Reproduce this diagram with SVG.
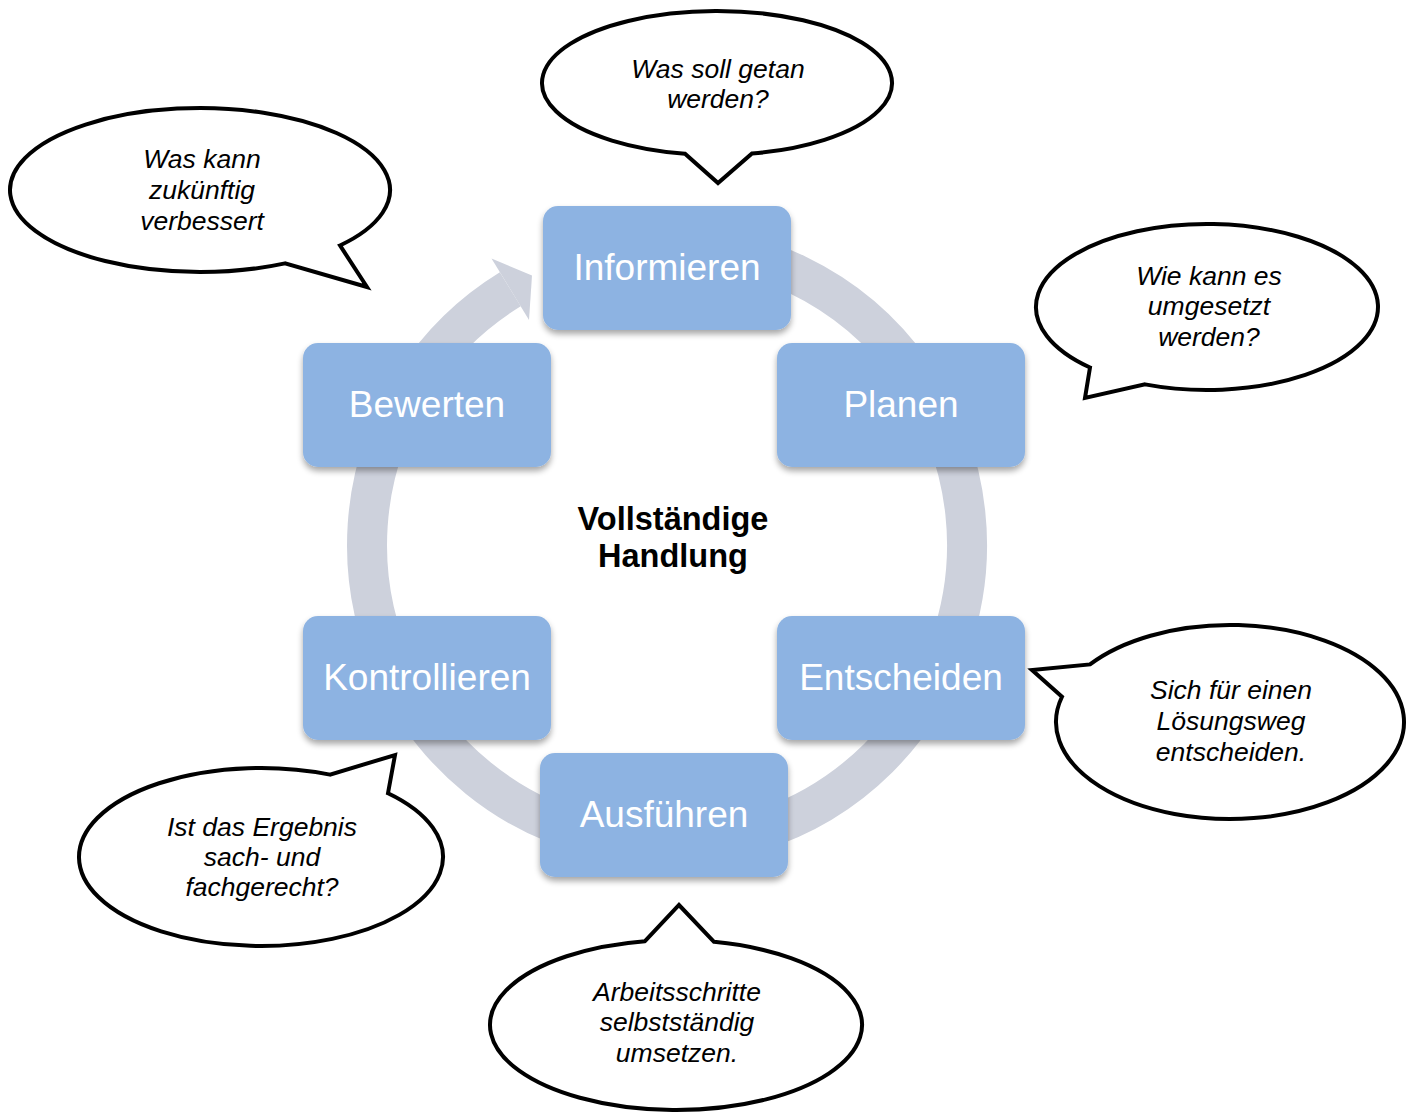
<svg xmlns="http://www.w3.org/2000/svg" width="1414" height="1113" viewBox="0 0 1414 1113">
<style>
.box{fill:#8db3e2;filter:url(#sh)}
.bt{font-family:"Liberation Sans",Arial,sans-serif;font-size:37px;fill:#fff;text-anchor:middle}
.bub{fill:#fff;stroke:#000;stroke-width:4;stroke-linejoin:miter}
.ct{font-family:"Liberation Sans",Arial,sans-serif;font-size:26.5px;font-style:italic;fill:#000;text-anchor:middle}
.ctr{font-family:"Liberation Sans",Arial,sans-serif;font-size:32.5px;font-weight:bold;fill:#000;text-anchor:middle}
</style>
<defs>
<filter id="sh" x="-10%" y="-10%" width="120%" height="130%">
<feGaussianBlur in="SourceAlpha" stdDeviation="3"/>
<feOffset dy="4" result="b"/>
<feComponentTransfer><feFuncA type="linear" slope="0.35"/></feComponentTransfer>
<feMerge><feMergeNode/><feMergeNode in="SourceGraphic"/></feMerge>
</filter>
</defs>
<rect width="1414" height="1113" fill="#fff"/>
<g id="connectors">
<path d="M667,245 A300,300 0 1 1 510.3,289.2" fill="none" stroke="#cdd1dc" stroke-width="40"/>
<polygon points="491.5,258.5 532,275.6 529,320" fill="#cdd1dc"/>
</g>
<g id="node-informieren"><rect class="box" x="543" y="206" width="248" height="124" rx="15"/><text class="bt" x="667" y="280">Informieren</text></g>
<g id="node-planen"><rect class="box" x="777" y="343" width="248" height="124" rx="15"/><text class="bt" x="901" y="417">Planen</text></g>
<g id="node-entscheiden"><rect class="box" x="777" y="616" width="248" height="124" rx="15"/><text class="bt" x="901" y="690">Entscheiden</text></g>
<g id="node-ausfuehren"><rect class="box" x="540" y="753" width="248" height="124" rx="15"/><text class="bt" x="664" y="827">Ausführen</text></g>
<g id="node-kontrollieren"><rect class="box" x="303" y="616" width="248" height="124" rx="15"/><text class="bt" x="427" y="690">Kontrollieren</text></g>
<g id="node-bewerten"><rect class="box" x="303" y="343" width="248" height="124" rx="15"/><text class="bt" x="427" y="417">Bewerten</text></g>
<g id="center"><text class="ctr" x="673" y="530">Vollständige</text><text class="ctr" x="673" y="567">Handlung</text></g>
<g id="bubble-top">
<path class="bub" d="M685,153.79 A175,72 0 1 1 752,153.55 L718,183 Z"/>
<text class="ct" x="718" y="78">Was soll getan</text><text class="ct" x="718" y="108">werden?</text>
</g>
<g id="bubble-topleft">
<path class="bub" d="M340,245.44 A190,82 0 1 0 285,263.34 L367,287 Z"/>
<text class="ct" x="202" y="168">Was kann</text><text class="ct" x="202" y="199">zukünftig</text><text class="ct" x="202" y="230">verbessert</text>
</g>
<g id="bubble-right-upper">
<path class="bub" d="M1145,384.35 A171,83 0 1 0 1090,367.53 L1085,398 Z"/>
<text class="ct" x="1209" y="285">Wie kann es</text><text class="ct" x="1209" y="315">umgesetzt</text><text class="ct" x="1209" y="346">werden?</text>
</g>
<g id="bubble-right">
<path class="bub" d="M1090,664.4 A174,97 0 1 1 1062,696.75 L1032,670 Z"/>
<text class="ct" x="1231" y="699">Sich für einen</text><text class="ct" x="1231" y="730">Lösungsweg</text><text class="ct" x="1231" y="761">entscheiden.</text>
</g>
<g id="bubble-bottomleft">
<path class="bub" d="M388,793.25 A182,89 0 1 1 330,774.64 L395,755 Z"/>
<text class="ct" x="262" y="836">Ist das Ergebnis</text><text class="ct" x="262" y="866">sach- und</text><text class="ct" x="262" y="896">fachgerecht?</text>
</g>
<g id="bubble-bottom">
<path class="bub" d="M714,941.79 A186,85 0 1 1 645,941.19 L679,905 Z"/>
<text class="ct" x="677" y="1001">Arbeitsschritte</text><text class="ct" x="677" y="1031">selbstständig</text><text class="ct" x="677" y="1062">umsetzen.</text>
</g>
</svg>
